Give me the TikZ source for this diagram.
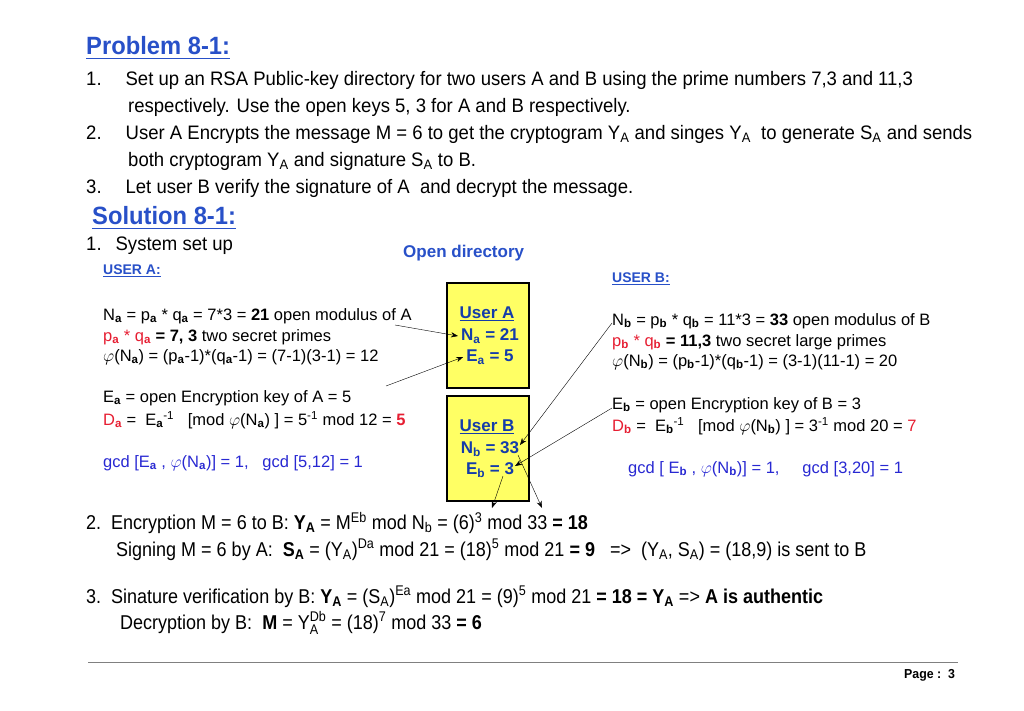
\documentclass[tikz,border=0pt]{standalone}
\usepackage{amsmath}
\usepackage{fontspec}
\setmainfont{Liberation Sans}
\newfontfamily\narrow[FakeStretch=0.95]{Liberation Sans}
\newfontfamily\solfont[FakeStretch=0.9]{Liberation Sans}
\usetikzlibrary{arrows.meta}
\definecolor{hdblue}{RGB}{40,80,200}
\definecolor{keyred}{RGB}{230,30,50}
\definecolor{gcdblue}{RGB}{40,40,210}
\definecolor{boxyel}{RGB}{255,255,100}
\definecolor{boxblue}{RGB}{20,60,170}
\newcommand{\hd}[1]{\textcolor{hdblue}{\underline{#1}}}
\begin{document}
\begin{tikzpicture}[x=1pt,y=-1pt,
  every node/.style={inner sep=0pt,anchor=west},
  prob/.style={font=\narrow\fontsize{19.5}{22}\selectfont},
  body/.style={font=\fontsize{16.5}{19}\selectfont},
  sol/.style={font=\solfont\fontsize{20}{24}\selectfont},
  title/.style={font=\narrow\bfseries\fontsize{25}{28}\selectfont, text=hdblue},
  boxtxt/.style={font=\bfseries\fontsize{17}{19}\selectfont, text=boxblue, anchor=center},
  userbox/.style={draw, line width=2pt, fill=boxyel, minimum width=82pt, minimum height=105pt, anchor=north west},
  ptr/.style={-{Stealth[length=7pt]}, thin}]
\useasboundingbox (0,0) rectangle (1024,711);
% problem statement
\node[title] (ptitle) at (86,48) {\underline{Problem 8-1:}};
\node[prob] (p1) at (86,80) {1.\hspace{24pt}Set up an RSA Public-key directory for two users A and B using the prime numbers 7,3 and 11,3};
\node[prob] (p1b) at (128,107) {respectively. Use the open keys 5, 3 for A and B respectively.};
\node[prob] (p2) at (86,134) {2.\hspace{24pt}User A Encrypts the message M = 6 to get the cryptogram Y$_\text{A}$ and singes Y$_\text{A}$\ \ to generate S$_\text{A}$ and sends};
\node[prob] (p2b) at (128,161) {both cryptogram Y$_\text{A}$ and signature S$_\text{A}$ to B.};
\node[prob] (p3) at (86,188) {3.\hspace{24pt}Let user B verify the signature of A\ \ and decrypt the message.};
% solution
\node[title] (stitle) at (92,218) {\underline{Solution 8-1:}};
\node[prob] (s1) at (86,246) {1.\hspace{14pt}System set up};
\node[font=\bfseries\fontsize{17}{20}\selectfont, text=hdblue] (opendir) at (403,253) {Open directory};
% user A
\node[font=\bfseries\fontsize{14}{16}\selectfont] (ua) at (103,271) {\hd{USER A:}};
\node[body] (na) at (103,316) {N$_{\textbf{a}}$ = p$_{\textbf{a}}$ * q$_{\textbf{a}}$ = 7*3 = \textbf{21} open modulus of A};
\node[body] (pa) at (103,337) {\textcolor{keyred}{p$_{\textbf{a}}$ * q$_{\textbf{a}}$} \textbf{= 7, 3} two secret primes};
\node[body] (phia) at (103,357) {$\varphi$(N$_{\textbf{a}}$) = (p$_{\textbf{a}}$-1)*(q$_{\textbf{a}}$-1) = (7-1)(3-1) = 12};
\node[body] (ea) at (103,398) {E$_{\textbf{a}}$ = open Encryption key of A = 5};
\node[body] (da) at (103,420) {\textcolor{keyred}{D$_{\textbf{a}}$} = \ E$_{\textbf{a}}$$^{\text{-1}}$\ \ \ [mod $\varphi$(N$_{\textbf{a}}$) ] = 5$^{\text{-1}}$ mod 12 = \textcolor{keyred}{\textbf{5}}};
\node[body, text=gcdblue] (gcda) at (103,463) {gcd [E$_{\textbf{a}}$ , $\varphi$(N$_{\textbf{a}}$)] = 1,\ \ \ gcd [5,12] = 1};
% user B
\node[font=\bfseries\fontsize{14}{16}\selectfont] (ub) at (612,279) {\hd{USER B:}};
\node[body] (nb) at (612,321) {N$_{\textbf{b}}$ = p$_{\textbf{b}}$ * q$_{\textbf{b}}$ = 11*3 = \textbf{33} open modulus of B};
\node[body] (pb) at (612,342) {\textcolor{keyred}{p$_{\textbf{b}}$ * q$_{\textbf{b}}$} \textbf{= 11,3}\ two secret large primes};
\node[body] (phib) at (612,362) {$\varphi$(N$_{\textbf{b}}$) = (p$_{\textbf{b}}$-1)*(q$_{\textbf{b}}$-1) = (3-1)(11-1) = 20};
\node[body] (eb) at (612,405) {E$_{\textbf{b}}$ = open Encryption key of B = 3};
\node[body] (db) at (612,426) {\textcolor{keyred}{D$_{\textbf{b}}$} = \ E$_{\textbf{b}}$$^{\text{-1}}$\ \ \ [mod $\varphi$(N$_{\textbf{b}}$) ] = 3$^{\text{-1}}$ mod 20 = \textcolor{keyred}{7}};
\node[body, text=gcdblue] (gcdb) at (628,469) {gcd [ E$_{\textbf{b}}$ , $\varphi$(N$_{\textbf{b}}$)] = 1,\ \ \ \ \ gcd [3,20] = 1};
% directory boxes
\node[userbox] (boxa) at (446,282) {};
\node[userbox] (boxb) at (446,395) {};
\node[boxtxt] (boxatxt) at (487,314) {\underline{User A}};
\node[boxtxt] (boxana) at (490,336) {N$_\text{a}$ = 21};
\node[boxtxt] (boxaea) at (490,357) {E$_\text{a}$ = 5};
\node[boxtxt] (boxbtxt) at (487,427) {\underline{User B}};
\node[boxtxt] (boxbnb) at (490,449) {N$_\text{b}$ = 33};
\node[boxtxt] (boxbeb) at (490,470) {E$_\text{b}$ = 3};
% pointers
\coordinate (ta) at (395,325);
\coordinate (tea) at (386,386);
\coordinate (fnb) at (612,323);
\coordinate (feb) at (612,408);
\coordinate (enc) at (492,508);
\coordinate (sig) at (542,508);
\draw[ptr] (ta) -- ([xshift=-3pt]boxana.west);
\draw[ptr] (tea) -- ([xshift=-3pt]boxaea.west);
\draw[ptr] (fnb) -- (520,445);
\draw[ptr] (feb) -- (515,466);
\draw[ptr] (503,476) -- (enc);
\draw[ptr] (518,455) -- (sig);
% encryption and signing
\node[sol] (enctxt) at (86,523) {2.\ \ Encryption M = 6 to B: \textbf{Y$_\textbf{A}$} = M$^\text{Eb}$ mod N$_\text{b}$ = (6)$^\text{3}$ mod 33 \textbf{= 18}};
\node[sol] (sigtxt) at (116,550) {Signing M = 6 by A:\ \ \textbf{S$_\textbf{A}$} = (Y$_\text{A}$)$^\text{Da}$ mod 21 = (18)$^\text{5}$ mod 21 \textbf{= 9}\ \ \ =>\ \ (Y$_\text{A}$, S$_\text{A}$) = (18,9) is sent to B};
\node[sol] (vertxt) at (86,597) {3.\ \ Sinature verification by B: \textbf{Y$_\textbf{A}$} = (S$_\text{A}$)$^\text{Ea}$ mod 21 = (9)$^\text{5}$ mod 21 \textbf{= 18 = Y$_\textbf{A}$} => \textbf{A is authentic}};
\node[sol] (dectxt) at (120,623) {Decryption by B:\ \ \textbf{M} = Y$_\text{A}^\text{Db}$ = (18)$^\text{7}$ mod 33 \textbf{= 6}};
% footer
\draw[gray, thin] (88,662) -- (958,662);
\node[font=\narrow\bfseries\fontsize{13}{15}\selectfont] (page) at (904,675) {Page :\ \ 3};
\end{tikzpicture}
\end{document}
